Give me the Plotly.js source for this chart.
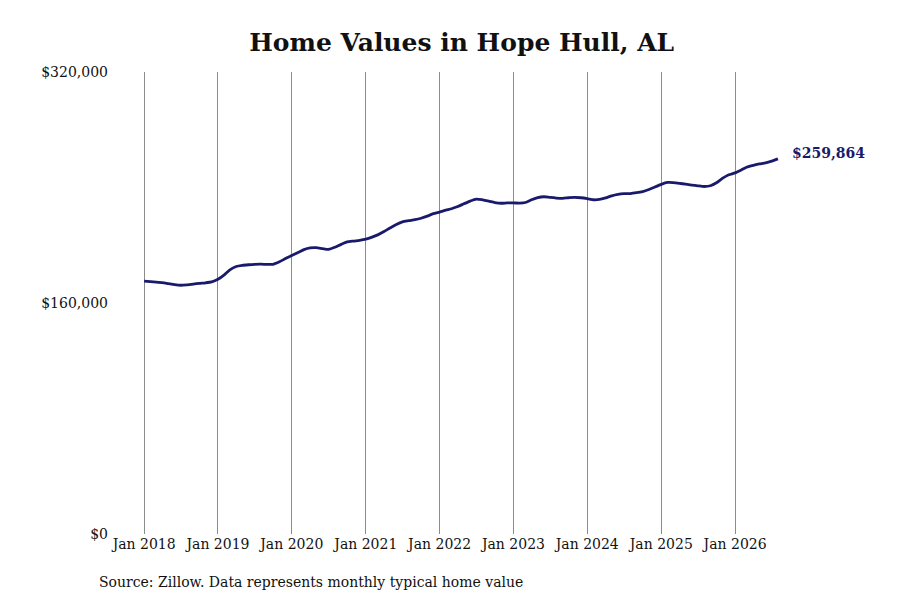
<!DOCTYPE html>
<html>
<head>
<meta charset="utf-8">
<script src="https://cdn.plot.ly/plotly-3.0.1.min.js"></script>
<style>html,body{margin:0;padding:0;background:#fff;}#chart{width:900px;height:600px;}</style>
</head>
<body>
<div id="chart"></div>
<script>
// Monthly typical home values, Jan 2018 - Aug 2026
const startYear = 2018;
const values = [
  // 2018
  175200, 174800, 174500, 174100, 173400, 172700, 172300, 172600, 173100, 173600, 174000, 174600,
  // 2019
  176400, 179500, 183000, 185300, 186100, 186500, 186800, 186900, 186700, 186800, 188500, 190800,
  // 2020
  192900, 195000, 197000, 198200, 198300, 197700, 197200, 198600, 200600, 202300, 202900, 203400,
  // 2021
  204200, 205600, 207200, 209500, 212000, 214400, 216200, 217000, 217700, 218700, 220200, 221900,
  // 2022
  223000, 224300, 225300, 226800, 228700, 230600, 232000, 231500, 230600, 229600, 229100, 229300,
  // 2023
  229300, 229200, 229600, 231500, 233000, 233600, 233100, 232700, 232500, 232900, 233200, 232900,
  // 2024
  232300, 231500, 231700, 232800, 234200, 235200, 235700, 235800, 236400, 237200, 238600, 240300,
  // 2025
  242200, 243500, 243400, 242900, 242300, 241700, 241200, 240700, 241200, 243300, 246500, 248800,
  // 2026
  250100, 252200, 254200, 255400, 256300, 257100, 258300, 259864
];
const tickYears = [2018, 2019, 2020, 2021, 2022, 2023, 2024, 2025, 2026];
const yTickVals = [0, 160000, 320000];
const yTickText = ["$0", "$160,000", "$320,000"];
const titleText = "Home Values in Hope Hull, AL";
const sourceText = "Source: Zillow. Data represents monthly typical home value";

function pad(n){return n<10?"0"+n:""+n;}
const dates = values.map((v,i)=>{
  const y = startYear + Math.floor(i/12);
  const m = i%12 + 1;
  return y + "-" + pad(m) + "-01";
});
const tickVals = tickYears.map(y=>y+"-01-01");
const tickText = tickYears.map(y=>"Jan "+y);
const lastVal = values[values.length-1];
const lastDate = dates[dates.length-1];

const font = "DejaVu Serif, serif";
const navy = "#1a1a6c";

Plotly.newPlot("chart", [{
  x: dates, y: values, type: "scatter", mode: "lines",
  line: {color: navy, width: 2.8, shape: "spline", smoothing: 0.6},
  hoverinfo: "skip"
}], {
  width: 900, height: 600,
  paper_bgcolor: "#fff", plot_bgcolor: "#fff",
  margin: {l: 112, r: 100, t: 72, b: 66},
  showlegend: false,
  font: {family: font, size: 14, color: "#111"},
  title: {
    text: "<b>" + titleText + "</b>",
    font: {family: font, size: 25, color: "#111"},
    xref: "container", yref: "container", x: 0.513, y: 0.93,
    xanchor: "center", yanchor: "middle"
  },
  xaxis: {
    type: "date",
    range: ["2017-07-26", "2026-11-18"],
    tickmode: "array", tickvals: tickVals, ticktext: tickText,
    showgrid: true, gridcolor: "#8c8c8c", gridwidth: 1,
    zeroline: false, showline: false, ticks: "",
    tickfont: {family: font, size: 14, color: "#111"}
  },
  yaxis: {
    range: [0, 320000],
    tickmode: "array", tickvals: yTickVals, ticktext: yTickText,
    showgrid: false, zeroline: false, showline: false, ticks: "",
    ticklabelstandoff: 3,
    tickfont: {family: font, size: 14, color: "#111"}
  },
  annotations: [
    {
      x: lastDate, y: lastVal, xref: "x", yref: "y",
      text: "<b>$" + lastVal.toLocaleString("en-US") + "</b>",
      showarrow: false, xanchor: "left", yanchor: "middle",
      xshift: 12, yshift: 6,
      font: {family: font, size: 14, color: navy}
    },
    {
      x: -0.022, y: -0.104, xref: "paper", yref: "paper",
      text: sourceText, showarrow: false,
      xanchor: "left", yanchor: "middle",
      font: {family: font, size: 14, color: "#111"}
    }
  ]
}, {staticPlot: true});
</script>
</body>
</html>
